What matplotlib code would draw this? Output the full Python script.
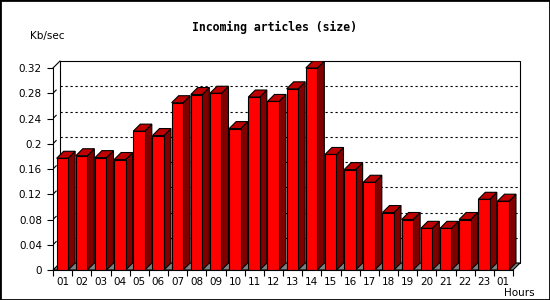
import matplotlib
matplotlib.use("Agg")
import matplotlib.pyplot as plt
from matplotlib.patches import Polygon, Rectangle

# hourly incoming article volume
hours = ["01", "02", "03", "04", "05", "06", "07", "08", "09", "10", "11", "12",
         "13", "14", "15", "16", "17", "18", "19", "20", "21", "22", "23", "01"]
size_kbps = [0.177, 0.181, 0.178, 0.175, 0.220, 0.213, 0.265, 0.278, 0.280, 0.224,
             0.274, 0.267, 0.287, 0.320, 0.183, 0.159, 0.139, 0.091, 0.080, 0.066,
             0.066, 0.080, 0.112, 0.109]
y_ticks = [0, 0.04, 0.08, 0.12, 0.16, 0.2, 0.24, 0.28, 0.32]
y_tick_labels = ["0", "0.04", "0.08", "0.12", "0.16", "0.2", "0.24", "0.28", "0.32"]

FRONT = "#ff0000"
SIDE = "#800000"
TOP = "#c00000"
FLOOR = "#808080"
LW = 0.8

W, H = 550, 300
fig = plt.figure(figsize=(W / 100, H / 100), dpi=100)
ax_px = (53, 30, 467, 209)  # left, bottom, width, height in pixels
ax = fig.add_axes([ax_px[0] / W, ax_px[1] / H, ax_px[2] / W, ax_px[3] / H])

n = len(hours)
ymax = y_ticks[-1]
depth = 7  # pixels of fake 3D depth
ddx = depth * n / (ax_px[2] - depth)
ddy = depth * ymax / (ax_px[3] - depth)
ax.set_xlim(0, n + ddx)
ax.set_ylim(0, ymax + ddy)

# back wall, floor and gridlines
ax.add_patch(Rectangle((ddx, ddy), n, ymax, fc="white", ec="black", lw=LW, zorder=0.5, clip_on=False))
ax.add_patch(Polygon([(0, 0), (n, 0), (n + ddx, ddy), (ddx, ddy)], closed=True,
                     fc=FLOOR, ec="black", lw=LW, zorder=1, clip_on=False))
ax.plot([0, ddx], [ymax, ymax + ddy], color="black", lw=LW, zorder=1, clip_on=False)
for v in y_ticks[1:-1]:
    ax.plot([ddx, n + ddx], [v + ddy, v + ddy], color="black", lw=LW,
            ls=(0, (2, 2.5)), zorder=0.8, clip_on=False)
    ax.plot([0, ddx * 0.45], [v, v + ddy * 0.45], color="black", lw=LW, zorder=0.8)

# bars: front faces through ax.bar, side and top faces from the same geometry
bw = 0.6
centers = [i + 0.49 for i in range(n)]
bars = ax.bar(centers, size_kbps, width=bw, color=FRONT, edgecolor="black",
              linewidth=LW, zorder=3)
for b in bars:
    x0 = b.get_x()
    x1 = x0 + b.get_width()
    v = b.get_height()
    ax.add_patch(Polygon([(x1, 0), (x1 + ddx, ddy), (x1 + ddx, v + ddy), (x1, v)],
                         closed=True, fc=SIDE, ec="black", lw=LW, zorder=2.9))
    ax.add_patch(Polygon([(x0, v), (x1, v), (x1 + ddx, v + ddy), (x0 + ddx, v + ddy)],
                         closed=True, fc=TOP, ec="black", lw=LW, zorder=2.9))

# axes and ticks
for s in ["top", "right"]:
    ax.spines[s].set_visible(False)
for s in ["left", "bottom"]:
    ax.spines[s].set_linewidth(LW)
    ax.spines[s].set_zorder(4)
ax.spines["left"].set_bounds(0, ymax)
ax.spines["bottom"].set_bounds(0, n)

ax.set_yticks(y_ticks)
ax.set_yticklabels(y_tick_labels)
ax.set_xticks(range(n + 1))
ax.set_xticklabels([])
ax.set_xticks([i + 0.5 for i in range(n)], minor=True)
ax.set_xticklabels(hours, minor=True)
ax.tick_params(axis="y", length=4, width=LW, pad=4, labelsize=7.5)
ax.tick_params(axis="x", which="major", length=4, width=LW)
ax.tick_params(axis="x", which="minor", length=0, pad=5, labelsize=7.5)
ax.patch.set_visible(False)

fig.text(274 / W, 1 - 27 / H, "Incoming articles (size)", ha="center", va="center",
         family="DejaVu Sans Mono", weight="bold", fontsize=8.3)
fig.text(47.5 / W, 1 - 36.5 / H, "Kb/sec", ha="center", va="center", fontsize=7.5)
fig.text(519 / W, 1 - 292.5 / H, "Hours", ha="center", va="center", fontsize=7.5)

fig.patches.append(Rectangle((0, 0), 1, 1, transform=fig.transFigure, fill=False,
                             ec="black", lw=2))

fig.savefig("out.png", dpi=100)
